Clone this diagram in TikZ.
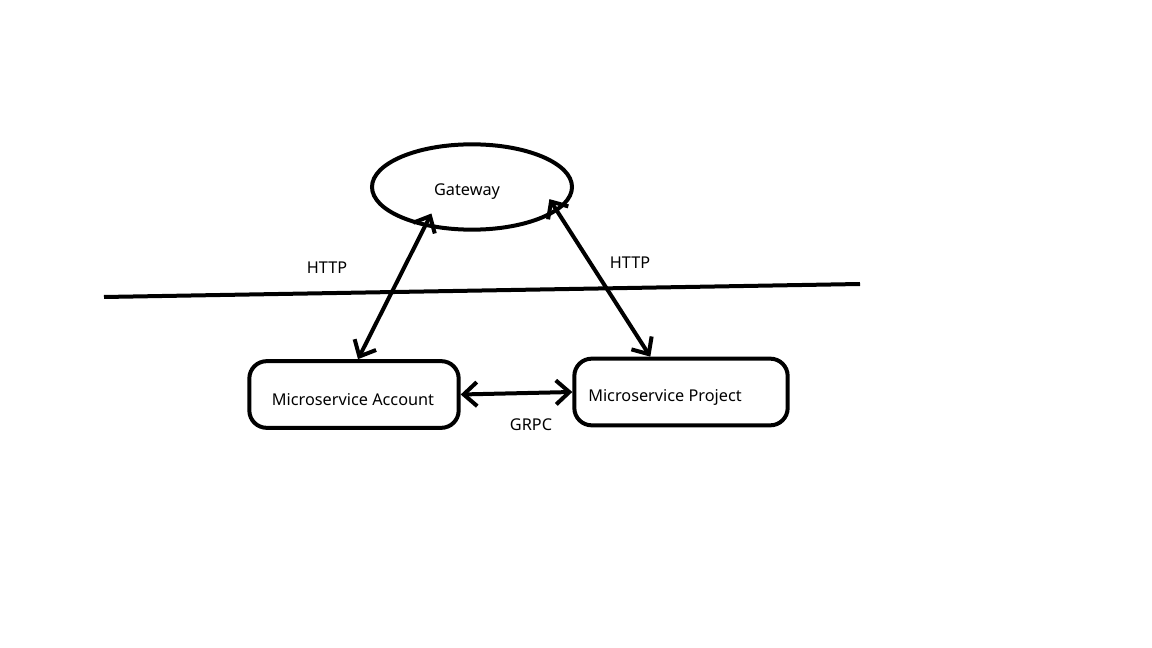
\documentclass[tikz,border=0pt]{standalone}
\usepackage{fontspec}
\setmainfont{Noto Sans}
\usepackage{tikz}
\usetikzlibrary{shapes,arrows,positioning,calc,arrows.meta}

\begin{document}
\begin{tikzpicture}[x=0.75pt,y=-0.75pt, >={Straight Barb[length=10pt,width=18pt]}, line width=3pt,
    every node/.style={font=\fontsize{12.2}{14}\selectfont},
    service/.style={draw, rounded corners=13pt, minimum width=157pt, minimum height=50pt, inner sep=0pt},
    gate/.style={draw, ellipse, minimum width=150pt, minimum height=64pt}]
    \useasboundingbox (0,0) rectangle (1152,648);

    \node[gate] (gw) at (472,187) {};
    \node at (467,192) {Gateway};
    \node[service] (acc) at (354,394.5) {};
    \node at (353,400) {Microservice Account};
    \node[service, minimum width=160pt] (prj) at (681,392) {};
    \node at (665,397) {Microservice Project};

    % divider
    \draw (104,297) -- (860,284);

    \draw[<->, shorten >=-11pt] ([xshift=3pt]acc.north) -- (gw.-140);
    \draw[<->, shorten >=-11pt] ([xshift=-23pt]prj.north) -- (gw.-16);
    \draw[<->] (acc.east) -- (prj.west);

    \foreach \pos/\txt in {{(327,268)}/HTTP, {(630,263)}/HTTP, {(531,425)}/GRPC} {
        \node at \pos {\txt};
    }
\end{tikzpicture}
\end{document}
